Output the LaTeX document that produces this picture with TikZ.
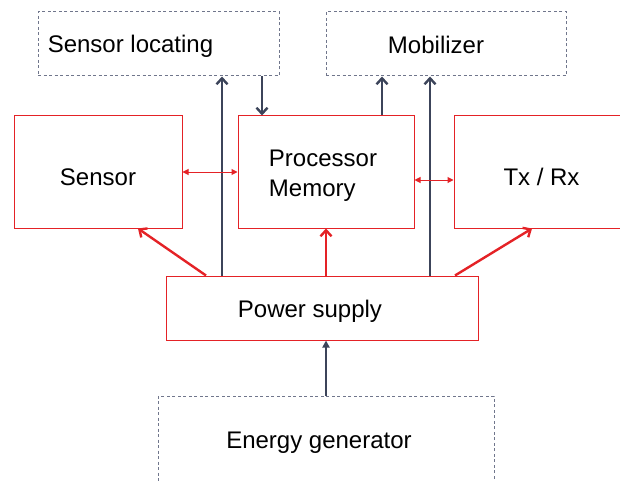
\documentclass[tikz,border=0pt]{standalone}
\usepackage{fontspec}
\setmainfont{Liberation Sans}
\usetikzlibrary{arrows.meta,positioning,calc}
\definecolor{pwrred}{RGB}{228,34,38}
\definecolor{navy}{RGB}{60,68,90}
\definecolor{dashgray}{RGB}{112,118,140}
\tikzset{every picture/.style={line width=0.75pt}}
\tikzset{
    box/.style={draw=pwrred, line width=1pt, inner sep=0pt},
    extbox/.style={draw=dashgray, line width=1pt, dash pattern=on 3pt off 2.5pt, inner sep=0pt},
    ctrl/.style={draw=navy, line width=2.4pt, -{Straight Barb[length=6pt,width=11pt]}},
    feed/.style={draw=pwrred, line width=2.4pt, -{Straight Barb[length=6pt,width=11pt]}},
    link/.style={draw=pwrred, line width=1pt, {Triangle[length=6pt,width=6pt]}-{Triangle[length=6pt,width=6pt]}},
    every node/.style={font=\fontsize{24}{30}\selectfont}
}

\begin{document}
\begin{tikzpicture}[x=1pt, y=1pt]
    \useasboundingbox (0,0) rectangle (620,480);
    \clip (0,0) rectangle (620,480);
    \node[extbox, minimum width=241pt, minimum height=64pt,
        label={[xshift=-28pt, yshift=-2pt]center:Sensor locating}] (loc) at (158.5,436) {};
    \node[extbox, minimum width=240pt, minimum height=64pt,
        label={[xshift=-10pt, yshift=-1pt]center:Mobilizer}] (mob) at (446,436) {};
    \node[box, minimum width=168pt, minimum height=112pt,
        label={[yshift=-5pt]center:Sensor}] (sens) at (98,308) {};
    \node[box, minimum width=176pt, minimum height=112pt,
        label={[xshift=-3pt, yshift=-4pt, align=left]center:Processor\\Memory}] (proc) at (326,308) {};
    \node[box, minimum width=200pt, minimum height=112pt,
        label={[xshift=-12.5pt, yshift=-5pt]center:Tx / Rx}] (trx) at (554,308) {};
    \node[box, minimum width=312pt, minimum height=64pt,
        label={[xshift=-12pt, yshift=-3pt]center:Power supply}] (pwr) at (322,172) {};
    \node[extbox, minimum width=336pt, minimum height=104pt,
        label={[xshift=-7pt, yshift=5pt]center:Energy generator}] (gen) at (326,32) {};

    % control lines
    \draw[ctrl] (pwr.north -| 222,0) -- (loc.south -| 222,0);
    \draw[ctrl] (loc.south -| 262,0) -- (proc.north -| 262,0);
    \draw[ctrl] (proc.north -| 382,0) -- (mob.south -| 382,0);
    \draw[ctrl] (pwr.north -| 430,0) -- (mob.south -| 430,0);
    \draw[draw=navy, line width=2.4pt, -{Triangle[length=7pt,width=7pt]}] (gen.north) -- (pwr.south -| gen.north);

    % power feeds
    \draw[feed] (pwr.north -| 206,0) -- (sens.south -| 138,0);
    \draw[feed] (pwr.north -| proc.south) -- (proc.south);
    \draw[feed] (pwr.north -| 455,0) -- (trx.south -| 532,0);

    % data links
    \draw[link] (sens.east) -- (proc.west);
    \draw[link] ([yshift=-8pt]proc.east) -- ([yshift=-8pt]trx.west);
\end{tikzpicture}
\end{document}
